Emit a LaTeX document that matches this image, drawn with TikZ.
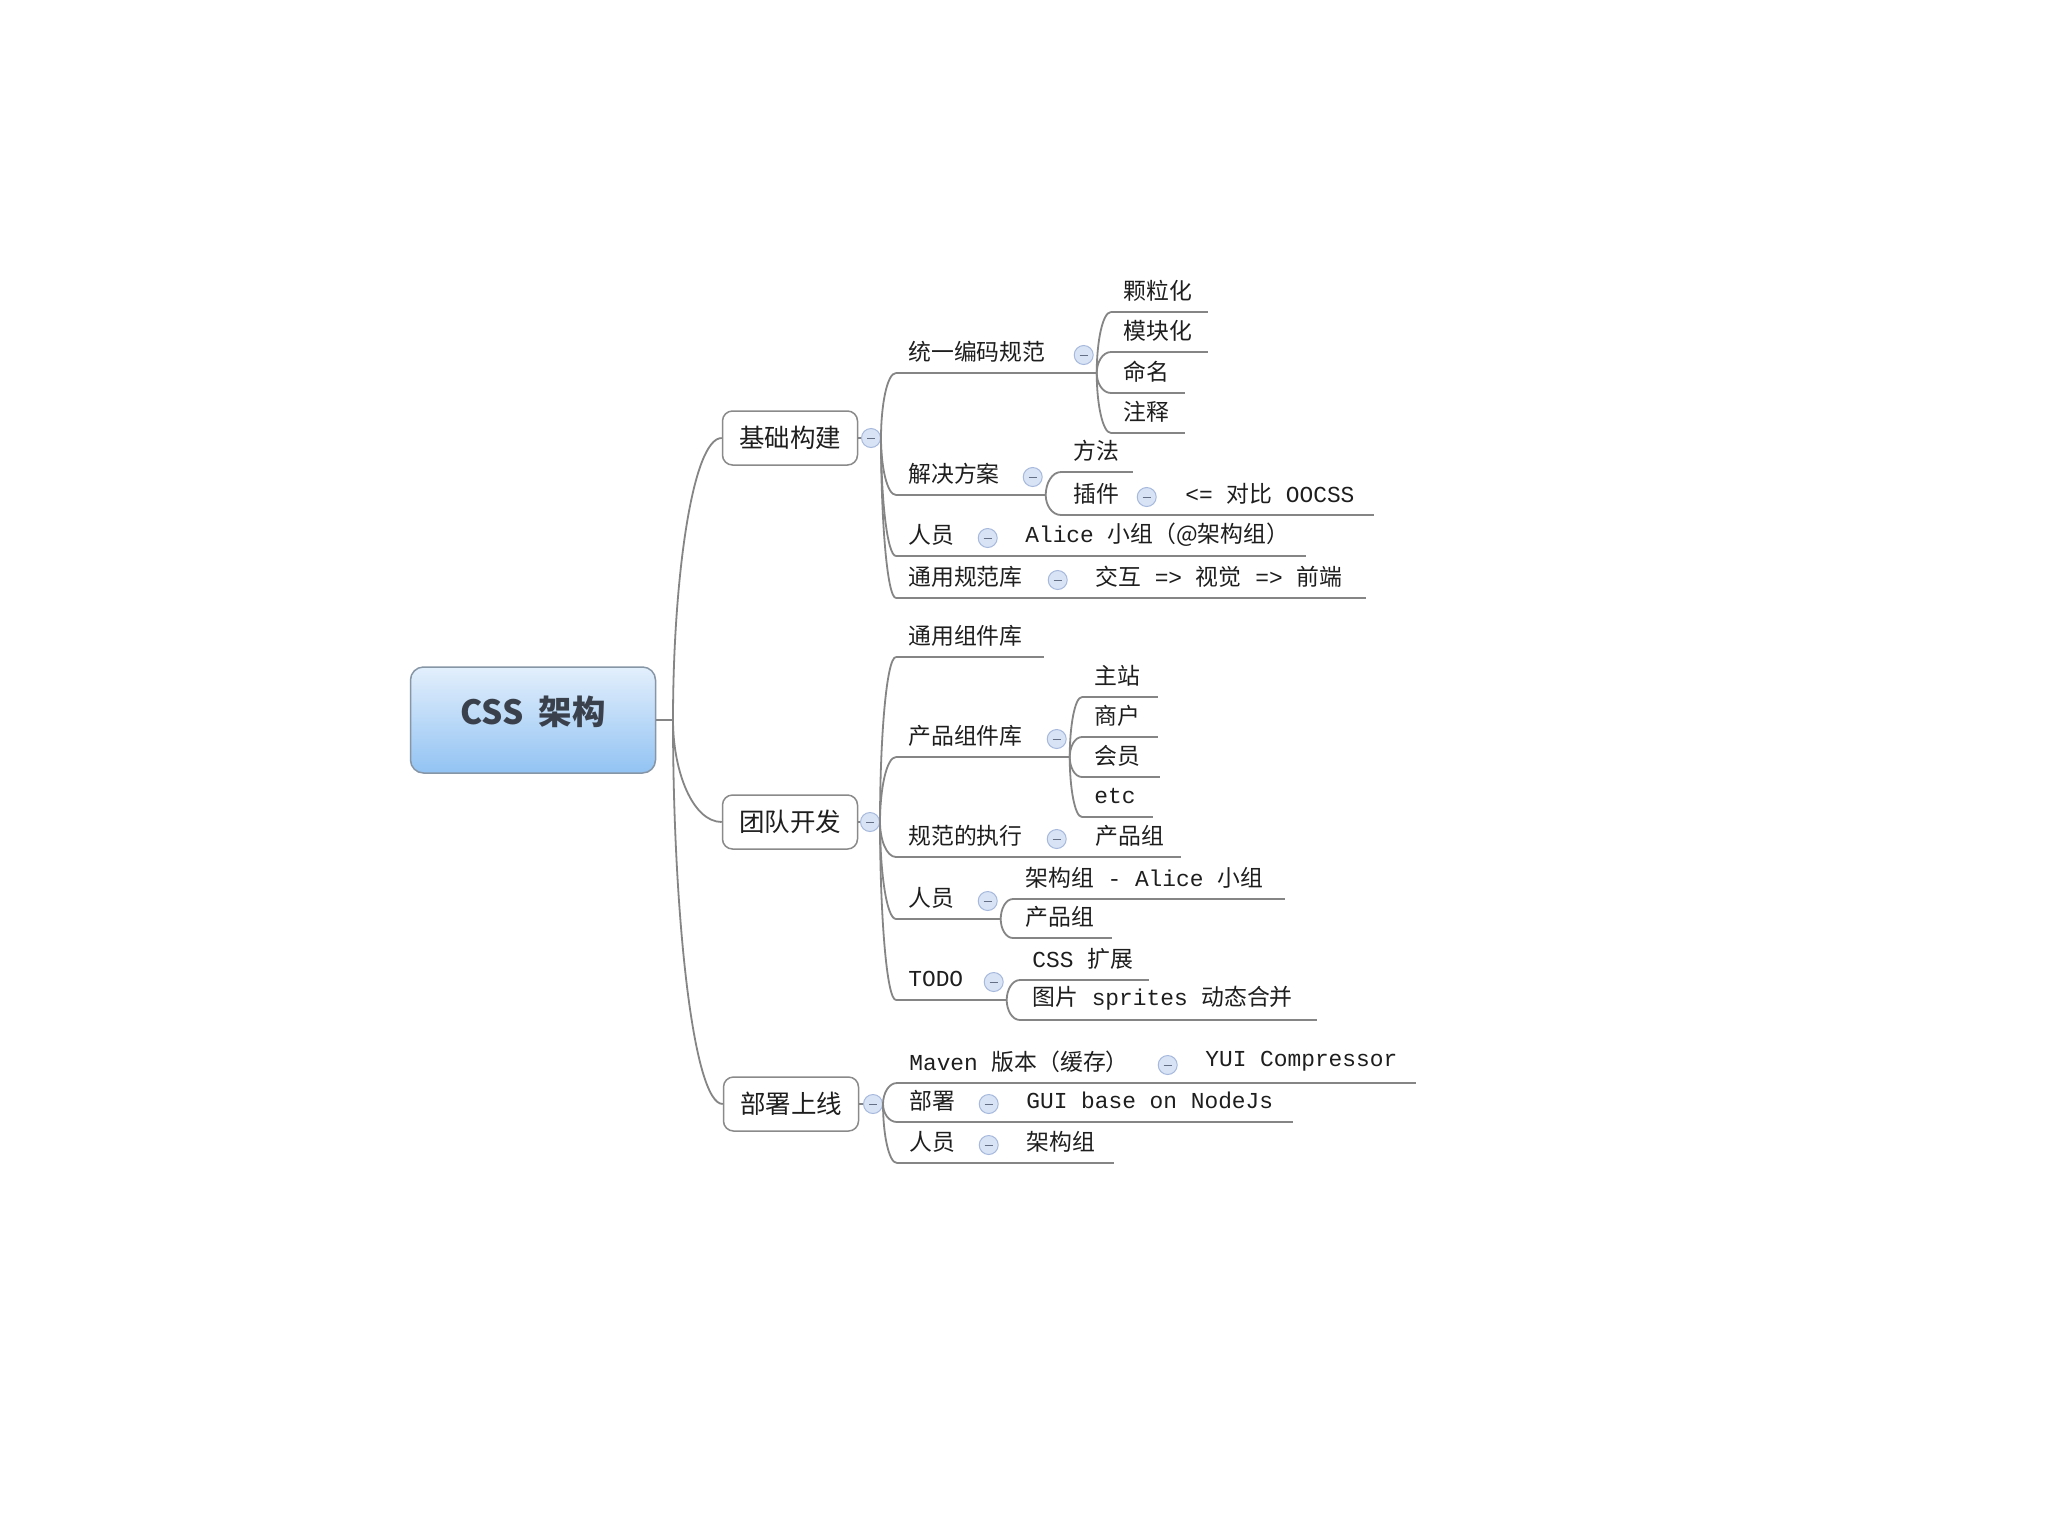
\documentclass[tikz,border=0pt]{standalone}
\usepackage{fontspec}
\newfontfamily\zhfont{Noto Sans CJK SC}
\newfontfamily\monofont{Liberation Mono}
\newcommand{\eng}[1]{{\monofont#1}}
\usetikzlibrary{calc}

\definecolor{inkgray}{HTML}{1E1E1E}
\definecolor{linegray}{HTML}{858585}
\definecolor{boxgray}{HTML}{8A8A8A}
\definecolor{rootline}{HTML}{8796A6}
\definecolor{roottop}{HTML}{E3EFFC}
\definecolor{rootbot}{HTML}{92C3F3}
\definecolor{rootink}{HTML}{3A414C}
\definecolor{foldfill}{HTML}{D8E3F5}
\definecolor{foldline}{HTML}{A6B9DD}

\tikzset{
  conn/.style={draw=linegray, line width=0.36mm},
  branch/.style={to path={.. controls ($(\tikztostart)!0.5!(\tikztostart|-\tikztotarget)$) and ($(\tikztostart|-\tikztotarget)!0.4!(\tikztotarget)$) .. (\tikztotarget)}},
  root/.style={draw=rootline, line width=0.3mm, rounded corners=2.6mm, top color=roottop, bottom color=rootbot,
    minimum width=49mm, minimum height=21.2mm, inner sep=0pt, text=rootink,
    text height=5.9mm, text depth=4mm,
    font=\zhfont\bfseries\fontsize{19pt}{22pt}\selectfont},
  topic/.style={draw=boxgray, line width=0.3mm, rounded corners=2mm, fill=white,
    minimum width=27mm, minimum height=10.8mm, inner sep=0pt, text=inkgray,
    font=\zhfont\fontsize{14.5pt}{17pt}\selectfont},
  sub/.style={anchor=south west, inner sep=0pt, minimum height=8.4mm, text=inkgray,
    font=\zhfont\fontsize{13pt}{15pt}\selectfont,
    /utils/exec={\pgfmathsetlengthmacro\subw{#1*0.2mm}},
    execute at begin node={\hbox to \subw\bgroup\hskip2.4mm},
    execute at end node={\hss\egroup},
    append after command={(\tikzlastnode.south west) edge[conn] (\tikzlastnode.south east)}},
  fold/.style={circle, draw=foldline, fill=foldfill, line width=0.2mm, minimum size=3.8mm, inner sep=0pt,
    path picture={\draw[foldline!60!black, line width=0.2mm]
      ([xshift=-0.8mm]path picture bounding box.center) -- ([xshift=0.8mm]path picture bounding box.center);}}
}

\begin{document}
\begin{tikzpicture}[x=0.2mm, y=-0.2mm]
  \fill[white] (0,0) rectangle (2048,1536);
  \useasboundingbox (0,0) rectangle (2048,1536);

  % root and main topics
  \node[root] (css) at (533,720) {CSS\hspace{3mm}架构};
  \coordinate (hub) at (673,720);
  \node[topic] (jichu) at (790,438) {基础构建};
  \node[topic] (tuandui) at (790,822) {团队开发};
  \node[topic] (bushu) at (791,1104) {部署上线};

  \draw[conn] (css.east) -- (hub);
  \draw[conn] (hub) to[branch] (jichu.west);
  \draw[conn] (hub) to[branch] (tuandui.west);
  \draw[conn] (hub) to[branch] (bushu.west);

  \node[fold] (f-jichu) at (871,438) {};
  \node[fold] (f-tuandui) at (870,822) {};
  \node[fold] (f-bushu) at (873,1104) {};
  \draw[conn] (jichu.east) -- (f-jichu.west);
  \draw[conn] (tuandui.east) -- (f-tuandui.west);
  \draw[conn] (bushu.east) -- (f-bushu.west);

  % 基础构建
  \node[sub=200] (tybm) at (896,373) {统一编码规范};
  \node[sub=96] (klh) at (1111,312) {颗粒化};
  \node[sub=96] (mkh) at (1111,352) {模块化};
  \node[sub=73] (mm) at (1111,393) {命名};
  \node[sub=73] (zs) at (1111,433) {注释};
  \node[sub=149] (jjfa) at (896,495) {解决方案};
  \node[sub=71] (ff) at (1061,472) {方法};
  \node[sub=98] (cj) at (1061,515) {插件};
  \node[sub=200] (oocss) at (1173,515) {\eng{<=~}对比\eng{~OOCSS}};
  \node[sub=104] (ry1) at (896,556) {人员};
  \node[sub=292] (alice) at (1013,556) {\eng{Alice~}小组（@架构组）};
  \node[sub=174] (tygfk) at (896,598) {通用规范库};
  \node[sub=282] (jh) at (1083,598) {交互\eng{~=>~}视觉\eng{~=>~}前端};

  \draw[conn] (f-jichu.east) to[branch] (tybm.south west);
  \draw[conn] (f-jichu.east) to[branch] (jjfa.south west);
  \draw[conn] (f-jichu.east) to[branch] (ry1.south west);
  \draw[conn] (f-jichu.east) to[branch] (tygfk.south west);
  \draw[conn] (tybm.south east) to[branch] (klh.south west);
  \draw[conn] (tybm.south east) to[branch] (mkh.south west);
  \draw[conn] (tybm.south east) to[branch] (mm.south west);
  \draw[conn] (tybm.south east) to[branch] (zs.south west);
  \draw[conn] (jjfa.south east) to[branch] (ff.south west);
  \draw[conn] (jjfa.south east) to[branch] (cj.south west);
  \draw[conn] (cj.south east) -- (oocss.south west);
  \draw[conn] (ry1.south east) -- (alice.south west);
  \draw[conn] (tygfk.south east) -- (jh.south west);

  % 团队开发
  \node[sub=147] (tyzjk) at (896,657) {通用组件库};
  \node[sub=173] (cpzjk) at (896,757) {产品组件库};
  \node[sub=75] (zz) at (1082,697) {主站};
  \node[sub=75] (sh) at (1082,737) {商户};
  \node[sub=77] (hy) at (1082,777) {会员};
  \node[sub=70] (etc) at (1082,817) {\eng{etc}};
  \node[sub=173] (gfzx) at (896,857) {规范的执行};
  \node[sub=97] (cpz1) at (1083,857) {产品组};
  \node[sub=104] (ry2) at (896,919) {人员};
  \node[sub=271] (jgz) at (1013,899) {架构组\eng{~-~Alice~}小组};
  \node[sub=98] (cpz2) at (1013,938) {产品组};
  \node[sub=110] (todo) at (896,1000) {\eng{TODO}};
  \node[sub=128] (cssk) at (1020,980) {\eng{CSS~}扩展};
  \node[sub=296] (sprites) at (1020,1020) {图片\eng{~sprites~}动态合并};

  \draw[conn] (f-tuandui.east) to[branch] (tyzjk.south west);
  \draw[conn] (f-tuandui.east) to[branch] (cpzjk.south west);
  \draw[conn] (f-tuandui.east) to[branch] (gfzx.south west);
  \draw[conn] (f-tuandui.east) to[branch] (ry2.south west);
  \draw[conn] (f-tuandui.east) to[branch] (todo.south west);
  \draw[conn] (cpzjk.south east) to[branch] (zz.south west);
  \draw[conn] (cpzjk.south east) to[branch] (sh.south west);
  \draw[conn] (cpzjk.south east) to[branch] (hy.south west);
  \draw[conn] (cpzjk.south east) to[branch] (etc.south west);
  \draw[conn] (gfzx.south east) -- (cpz1.south west);
  \draw[conn] (ry2.south east) to[branch] (jgz.south west);
  \draw[conn] (ry2.south east) to[branch] (cpz2.south west);
  \draw[conn] (todo.south east) to[branch] (cssk.south west);
  \draw[conn] (todo.south east) to[branch] (sprites.south west);

  % 部署上线
  \node[sub=283] (maven) at (897,1083) {\eng{Maven~}版本（缓存）};
  \node[sub=222] (yui) at (1193,1083) {\eng{YUI~Compressor}};
  \node[sub=104] (bs) at (897,1122) {部署};
  \node[sub=278] (gui) at (1014,1122) {\eng{GUI~base~on~NodeJs}};
  \node[sub=104] (ry3) at (897,1163) {人员};
  \node[sub=99] (jgz2) at (1014,1163) {架构组};

  \draw[conn] (f-bushu.east) to[branch] (maven.south west);
  \draw[conn] (f-bushu.east) to[branch] (bs.south west);
  \draw[conn] (f-bushu.east) to[branch] (ry3.south west);
  \draw[conn] (maven.south east) -- (yui.south west);
  \draw[conn] (bs.south east) -- (gui.south west);
  \draw[conn] (ry3.south east) -- (jgz2.south west);

  % fold buttons
  \foreach \n in {tybm,jjfa,cj,ry1,tygfk,cpzjk,gfzx,ry2,todo,maven,bs,ry3}
    \node[fold] at ($(\n.south east)+(-13,-18)$) {};
\end{tikzpicture}
\end{document}
